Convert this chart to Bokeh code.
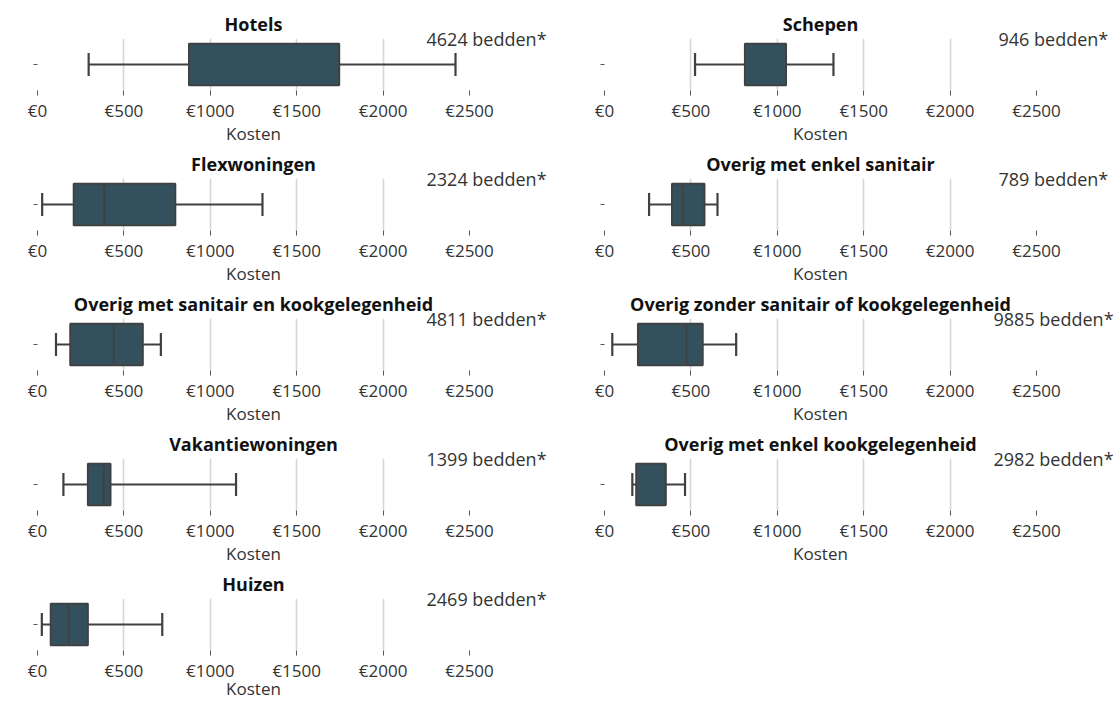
from bokeh.plotting import figure
from bokeh.models import Range1d, FixedTicker, LinearAxis, ColumnDataSource, CustomLabelingPolicy
from bokeh.layouts import gridplot
from bokeh.transform import dodge
from bokeh.embed import file_html
from bokeh.resources import INLINE

# ---- data ----
categories = [
    "Hotels", "Schepen",
    "Flexwoningen", "Overig met enkel sanitair",
    "Overig met sanitair en kookgelegenheid", "Overig zonder sanitair of kookgelegenheid",
    "Vakantiewoningen", "Overig met enkel kookgelegenheid",
    "Huizen",
]
bedden = [4624, 946, 2324, 789, 4811, 9885, 1399, 2982, 2469]
whisker_low = [296, 524, 27, 258, 107, 45, 150, 161, 25]
q1 = [876, 812, 209, 390, 189, 193, 291, 183, 76]
median = [1746, 1051, 386, 453, 441, 474, 384, 354, 181]
q3 = [1746, 1051, 798, 579, 610, 569, 423, 354, 292]
whisker_high = [2419, 1325, 1302, 654, 714, 762, 1149, 466, 722]

tick_values = [0, 500, 1000, 1500, 2000, 2500]
tick_labels = ["€0", "€500", "€1000", "€1500", "€2000", "€2500"]
x_label = "Kosten"

FONT = "Open Sans"
BOX_FILL = "#34505d"
LINE = "#404040"
TXT = "#333333"


def make_panel(i, col, row_idx):
    left_border = 37 if col == 0 else 50
    right_border = 85 if col == 0 else 75
    top_border = 38 if row_idx == 0 else 30
    p = figure(
        frame_width=432, frame_height=52,
        x_range=Range1d(0, 2500), y_range=Range1d(-0.5, 0.5),
        min_border_left=left_border, min_border_right=right_border,
        min_border_top=top_border, min_border_bottom=0,
        output_backend="svg", toolbar_location=None,
        title=categories[i],
    )
    p.title.align = "center"
    p.title.text_font = FONT
    p.title.text_font_size = "18px"
    p.title.text_font_style = "bold"
    p.title.text_color = "#111111"
    p.title.standoff = 5

    p.outline_line_color = None
    p.background_fill_color = "white"
    p.border_fill_color = "white"

    xa = p.xaxis[0]
    xa.ticker = FixedTicker(ticks=tick_values)
    xa.major_label_overrides = dict(zip(tick_values, tick_labels))
    xa.axis_line_color = None
    xa.major_tick_in = 0
    xa.major_tick_out = 5
    xa.major_tick_line_color = "#555555"
    xa.minor_tick_line_color = None
    xa.major_label_standoff = 3
    xa.major_label_text_font = FONT
    xa.major_label_text_font_size = "17px"
    xa.major_label_text_color = TXT
    xa.axis_label = x_label
    xa.axis_label_text_font = FONT
    xa.axis_label_text_font_size = "17px"
    xa.axis_label_text_font_style = "normal"
    xa.axis_label_text_color = TXT
    xa.axis_label_standoff = -8 if row_idx == 4 else -3

    # y axis: only a short tick mark at the single category, no label drawn
    ya = p.yaxis[0]
    ya.ticker = FixedTicker(ticks=[0])
    ya.major_label_policy = CustomLabelingPolicy(code="indices.unset(0); return indices")
    ya.axis_line_color = None
    ya.major_tick_in = 0
    ya.major_tick_out = 4
    ya.major_tick_line_color = "#555555"
    ya.minor_tick_line_color = None

    # note with the number of beds, drawn as the label of a right-hand axis tick
    text = f"{bedden[i]} bedden*"
    ndig = len(str(bedden[i]))
    note_axis = LinearAxis(
        ticker=FixedTicker(ticks=[0.5]),
        major_label_overrides={0.5: text},
        axis_line_color=None, major_tick_line_color=None, minor_tick_line_color=None,
        major_tick_in=0, major_tick_out=0,
        major_label_standoff=-43 if ndig == 4 else -38,
        major_label_text_font=FONT, major_label_text_font_size="18px",
        major_label_text_color=TXT,
    )
    p.add_layout(note_axis, "right")

    p.xgrid.ticker = FixedTicker(ticks=tick_values)
    p.xgrid.grid_line_color = "#d6d6d6"
    p.xgrid.grid_line_width = 1.6
    p.ygrid.visible = False

    src = ColumnDataSource(dict(
        y=[0], lw=[whisker_low[i]], q1=[q1[i]], med=[median[i]],
        q3=[q3[i]], uw=[whisker_high[i]],
    ))
    p.segment(x0="lw", y0="y", x1="q1", y1="y", source=src, line_color=LINE, line_width=2.2)
    p.segment(x0="q3", y0="y", x1="uw", y1="y", source=src, line_color=LINE, line_width=2.2)
    p.segment(x0="lw", y0=dodge("y", -0.22), x1="lw", y1=dodge("y", 0.22), source=src,
              line_color=LINE, line_width=2.2)
    p.segment(x0="uw", y0=dodge("y", -0.22), x1="uw", y1=dodge("y", 0.22), source=src,
              line_color=LINE, line_width=2.2)
    p.hbar(y="y", left="q1", right="q3", height=0.8, source=src,
           fill_color=BOX_FILL, line_color=LINE, line_width=1.8)
    p.segment(x0="med", y0=dodge("y", -0.4), x1="med", y1=dodge("y", 0.4), source=src,
              line_color=LINE, line_width=1.8)
    return p


panels = [make_panel(i, i % 2, i // 2) for i in range(len(categories))]
rows = [[panels[0], panels[1]], [panels[2], panels[3]], [panels[4], panels[5]],
        [panels[6], panels[7]], [panels[8], None]]
grid = gridplot(rows, toolbar_location=None)

open("out.html", "w").write(file_html(grid, INLINE))
